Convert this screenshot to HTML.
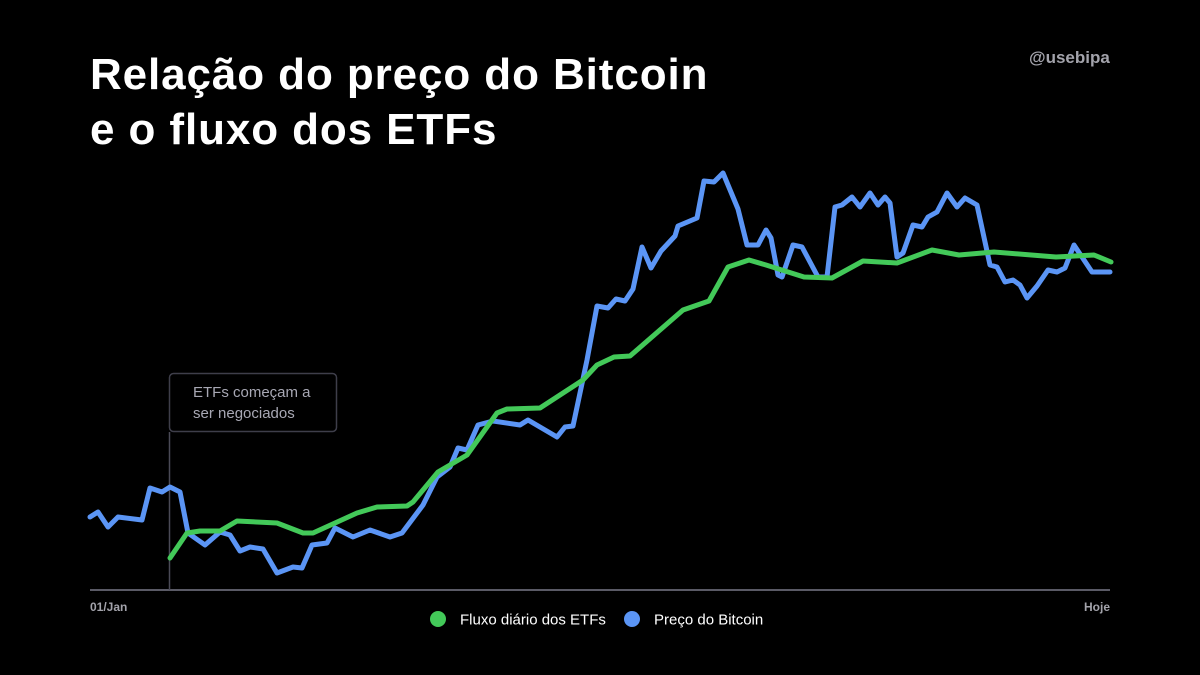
<!DOCTYPE html>
<html><head><meta charset="utf-8"><style>
html,body{margin:0;padding:0;background:#000;}
body{width:1200px;height:675px;position:relative;overflow:hidden;font-family:"Liberation Sans",sans-serif;}
.title{position:absolute;left:90px;top:47px;color:#fff;font-size:44px;font-weight:bold;line-height:55px;letter-spacing:0.9px;}
.handle{position:absolute;left:1029px;top:48px;color:#a3a3ab;font-size:17px;font-weight:bold;}
svg{position:absolute;left:0;top:0;}
</style></head><body>
<div class="title">Relação do preço do Bitcoin<br>e o fluxo dos ETFs</div>
<div class="handle">@usebipa</div>
<svg id="chart" width="1200" height="675"></svg>
<script>
// x: days from 01/Jan (0..1020 scale units), y: relative value
const priceX=[0,8,18,28,52,60,72,80,90,98,115,130,140,150,160,173,187,203,212,222,237,245,263,280,300,312,333,347,360,368,377,388,403,430,438,467,475,483,497,507,518,526,535,543,552,561,571,585,588,607,614,624,633,648,657,668,676,681,688,692,703,712,728,737,745,752,762,770,780,788,795,800,807,813,823,832,838,847,857,867,875,887,900,907,915,923,930,937,947,958,967,975,984,1002,1020];
const priceY=[73,78,63,73,70,102,98,103,98,57,45,58,55,39,43,41,17,23,22,45,47,62,53,60,53,57,85,113,123,142,140,165,169,165,170,153,163,164,230,284,282,291,289,301,343,322,339,354,364,372,409,408,417,381,345,345,360,352,315,313,345,343,313,313,383,385,393,383,397,385,393,387,333,337,365,363,373,378,397,383,392,385,325,323,308,310,305,292,304,320,318,322,345,318,318];
const flowX=[80,97,110,130,147,187,213,223,267,287,317,323,348,377,407,417,450,493,507,524,540,593,619,638,659,676,714,742,773,807,842,869,904,966,1004,1021];
const flowY=[32,57,59,59,69,67,57,57,77,83,84,88,118,135,177,181,182,210,225,233,234,280,289,323,330,325,313,312,329,327,340,335,338,333,335,328];
const xTicks=["01/Jan","Hoje"];
const legendLabels=["Fluxo diário dos ETFs","Preço do Bitcoin"];
const X0=90,X1=1110,XMAX=1020,Y0=590;
const sx=v=>X0+v*(X1-X0)/XMAX;
const sy=v=>Y0-v;
const NS="http://www.w3.org/2000/svg";
const svg=document.getElementById('chart');
function mk(t,a){const e=document.createElementNS(NS,t);for(const k in a)e.setAttribute(k,a[k]);svg.appendChild(e);return e;}
const ax=mk('line',{x1:X0,x2:X1,y1:Y0,y2:Y0,stroke:'#5a5a66','stroke-width':2});


const vl=mk('line',{x1:169.5,x2:169.5,y1:432,y2:Y0,stroke:'#4a4a56','stroke-width':1.5});


const box=mk('rect',{x:169.5,y:373.5,width:167,height:58,rx:4,fill:'#000',stroke:'#3e3e4a','stroke-width':1.5});


['ETFs começam a','ser negociados'].forEach((s,i)=>{const t=mk('text',{x:193,y:397+i*21,fill:'#a8a8b4','font-size':15,'font-family':'Liberation Sans, sans-serif'});t.textContent=s;

});
function line(xs,ys,color,name){
  const pts=xs.map((x,i)=>sx(x).toFixed(1)+','+sy(ys[i]).toFixed(1)).join(' ');
  const p=mk('polyline',{points:pts,fill:'none',stroke:color,'stroke-width':5,'stroke-linejoin':'round','stroke-linecap':'round'});
  
  
}
line(priceX,priceY,'#5b95f5','bitcoin-price-line');
line(flowX,flowY,'#43c959','etf-flow-line');
const t0=mk('text',{x:X0,y:611,fill:'#a3a3ab','font-size':12,'font-weight':'bold','font-family':'Liberation Sans, sans-serif'});t0.textContent=xTicks[0];


const t1=mk('text',{x:X1,y:611,fill:'#a3a3ab','font-size':12,'font-weight':'bold','text-anchor':'end','font-family':'Liberation Sans, sans-serif'});t1.textContent=xTicks[1];


const lc=['#43c959','#5b95f5'],lx=[438,632];
legendLabels.forEach((s,i)=>{
  const c=mk('circle',{cx:lx[i],cy:619,r:8,fill:lc[i]});
  
  
  const t=mk('text',{x:lx[i]+22,y:624.5,fill:'#fff','font-size':15,'font-family':'Liberation Sans, sans-serif'});t.textContent=s;
  
  
});
</script>
</body></html>
